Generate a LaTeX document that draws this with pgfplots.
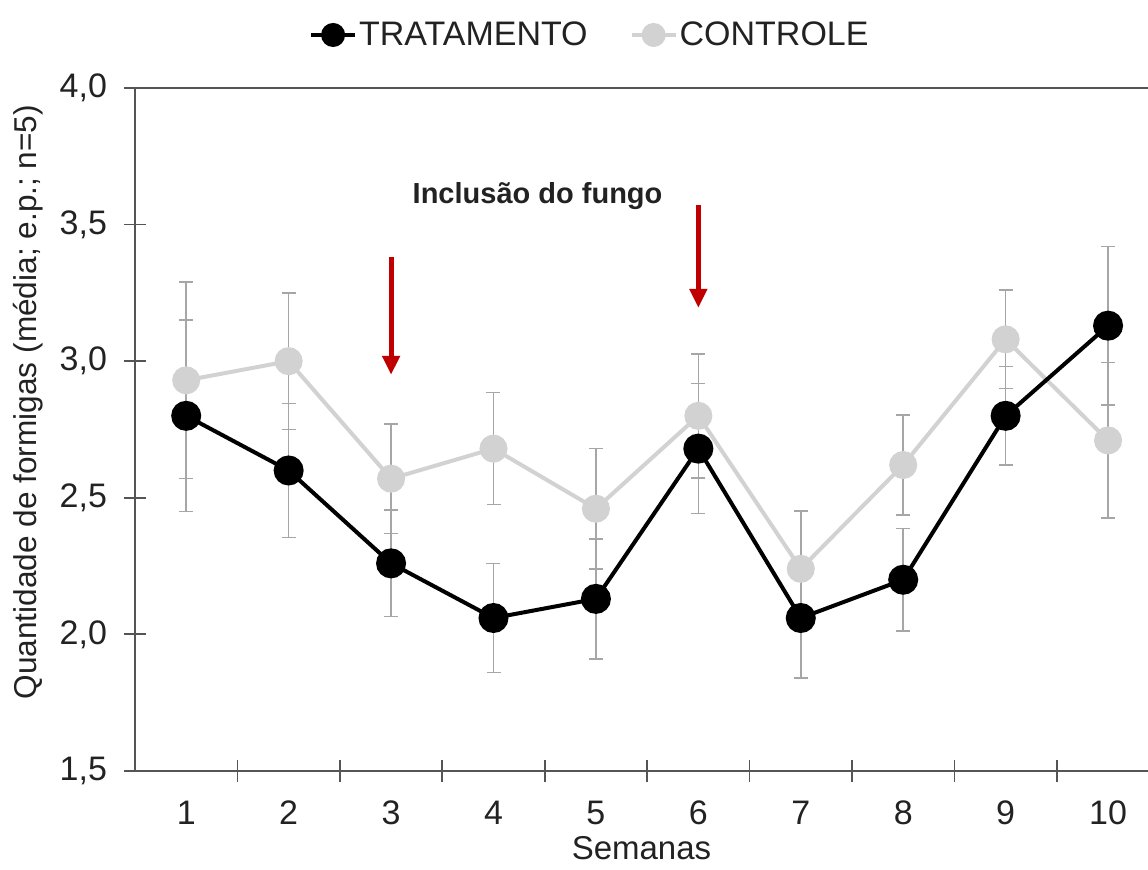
\documentclass[border=0pt]{standalone}
\usepackage{pgfplots}
\pgfplotsset{compat=1.18}
\usepackage{pgfplotstable}
\usepackage{fontspec}
\setmainfont{Liberation Sans}
\usetikzlibrary{arrows.meta}
\definecolor{ctrlgray}{HTML}{D2D2D2}
\definecolor{errgray}{HTML}{A6A6A6}
\definecolor{axgray}{HTML}{555555}
\definecolor{arrowred}{HTML}{C00000}
\definecolor{txt}{HTML}{222222}
\pgfplotstableread{
x  t     et     c     ec
1  2.80  0.350  2.93  0.360
2  2.60  0.245  3.00  0.250
3  2.26  0.195  2.57  0.200
4  2.06  0.200  2.68  0.205
5  2.13  0.220  2.46  0.220
6  2.68  0.238  2.80  0.227
7  2.06  0.220  2.24  0.212
8  2.20  0.187  2.62  0.183
9  2.80  0.180  3.08  0.180
10 3.13  0.290  2.71  0.285
}\data
\begin{document}
\begin{tikzpicture}
\begin{axis}[
  name=ax,
  scale only axis,
  width=506.5pt, height=341.5pt,
  xmin=0.5, xmax=10.39,
  ymin=1.5, ymax=4.0,
  axis lines*=left,
  axis line style={axgray, line width=0.9pt},
  xtick={1,...,10},
  major x tick style={draw=none},
  minor xtick={1.5,2.5,...,9.5},
  ytick={1.5,2.0,...,4.0},
  tick align=center,
  major tick length=11pt,
  minor tick length=11pt,
  tick style={axgray, line width=0.9pt},
  every tick label/.append style={font=\fontsize{17}{19}\selectfont, text=txt},
  yticklabel style={xshift=-5pt, /pgf/number format/.cd, use comma, fixed, fixed zerofill, precision=1},
  xticklabel style={yshift=-6pt},
  /pgf/number format/assume math mode=true,
  xlabel={Semanas},
  xlabel style={font=\fontsize{16.5}{18}\selectfont, text=txt, yshift=-1pt, inner sep=1pt},
  ylabel={Quantidade de formigas (média; e.p.; n=5)},
  ylabel style={font=\fontsize{15.8}{17}\selectfont, text=txt, at={(rel axis cs:-0.105,0.54)}, anchor=center},
  clip=false,
  reverse legend,
  legend columns=2,
  legend style={draw=none, fill=none, at={(0.449,1.0776)}, anchor=center,
    font=\fontsize{17}{19}\selectfont, text=txt,
    /tikz/every even column/.append style={column sep=20pt},
    nodes={inner sep=1pt}},
  legend image code/.code={\draw[mark repeat=2,mark phase=2,#1,mark size=5pt] plot coordinates {(0pt,0pt) (11pt,0pt) (22pt,0pt)};},
]
% error bars
\addplot[errgray, only marks, mark=*, mark size=0pt, forget plot,
  error bars/.cd, y dir=both, y explicit, error mark=|,
  error bar style={errgray, line width=0.8pt},
  error mark options={errgray, line width=0.8pt, mark size=3.5pt}]
  table[x=x, y=c, y error=ec] {\data};
\addplot[errgray, only marks, mark=*, mark size=0pt, forget plot,
  error bars/.cd, y dir=both, y explicit, error mark=|,
  error bar style={errgray, line width=0.8pt},
  error mark options={errgray, line width=0.8pt, mark size=3.5pt}]
  table[x=x, y=t, y error=et] {\data};
% controle
\addplot[ctrlgray, line width=2pt, mark=*, mark size=6pt, mark options={fill=ctrlgray, draw=ctrlgray}]
  table[x=x, y=c] {\data};
\addlegendentry{CONTROLE}
% tratamento
\addplot[black, line width=2pt, mark=*, mark size=6.5pt, mark options={fill=black, draw=black}]
  table[x=x, y=t] {\data};
\addlegendentry{TRATAMENTO}
% top border
\draw[axgray, line width=0.9pt] (rel axis cs:0,1) -- (rel axis cs:1,1);
% arrows
\draw[arrowred, line width=2.5pt, -{Triangle[width=8.5pt,length=9.5pt]}] (axis cs:3,3.38) -- (axis cs:3,2.95);
\draw[arrowred, line width=2.5pt, -{Triangle[width=8.5pt,length=9.5pt]}] (axis cs:6,3.57) -- (axis cs:6,3.195);
\node[font=\bfseries\fontsize{14.5}{16}\selectfont, text=txt] at (axis cs:4.43,3.605) {Inclusão do fungo};
\end{axis}
\pgfresetboundingbox
\path[use as bounding box] ([xshift=-67.5pt,yshift=-49.5pt]ax.south west) rectangle ([yshift=44pt]ax.north east);
\end{tikzpicture}
\end{document}
